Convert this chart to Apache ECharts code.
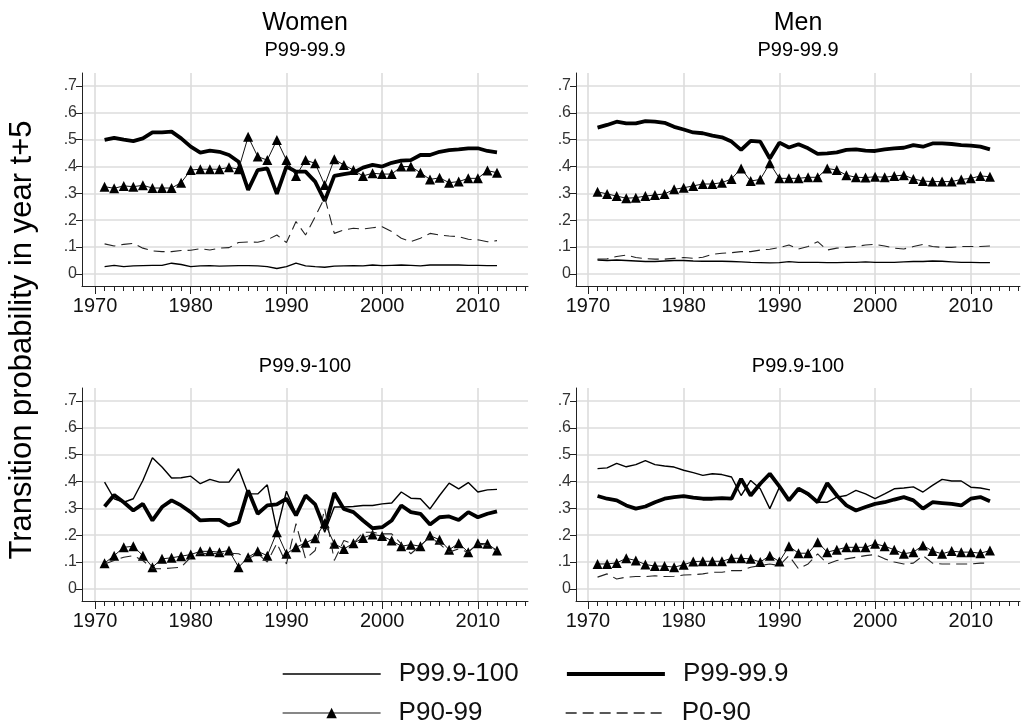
<!DOCTYPE html>
<html><head><meta charset="utf-8">
<script src="https://cdn.jsdelivr.net/npm/echarts@6/dist/echarts.min.js"></script>
<style>html,body{margin:0;padding:0;background:#fff}#c{width:1023px;height:724px}</style>
</head><body><div id="c"></div>
<script>
// ---------------- DATA ----------------
const years = [];
for (let y = 1971; y <= 2012; y++) years.push(y);
const xMajorTicks = [1970, 1980, 1990, 2000, 2010];
const xMinorTicks = [];
for (let y = 1970; y <= 2015; y++) xMinorTicks.push(y);
const yTicks = [0, 0.1, 0.2, 0.3, 0.4, 0.5, 0.6, 0.7];
const columnTitles = ['Women', 'Men'];
const panelTitles = ['P99-99.9', 'P99-99.9', 'P99.9-100', 'P99.9-100'];
const yAxisTitle = 'Transition probability in year t+5';
const seriesNames = ['P99.9-100', 'P99-99.9', 'P90-99', 'P0-90'];

// Women, origin P99-99.9
const womenP99_top = [.027,.032,.027,.030,.031,.032,.032,.040,.035,.027,.030,.031,.029,.030,.031,.031,.030,.027,.020,.027,.040,.030,.027,.025,.029,.030,.031,.030,.033,.031,.032,.033,.032,.030,.033,.033,.033,.033,.032,.032,.031,.031];
const womenP99_p99 = [.499,.507,.500,.495,.505,.527,.527,.530,.505,.474,.452,.459,.455,.443,.418,.313,.387,.393,.298,.400,.381,.381,.344,.272,.365,.372,.377,.396,.406,.400,.414,.422,.424,.443,.443,.455,.461,.464,.468,.468,.458,.453];
const womenP99_p90 = [.325,.319,.328,.325,.330,.320,.320,.320,.340,.387,.390,.390,.390,.397,.390,.511,.437,.424,.499,.424,.365,.424,.412,.331,.427,.406,.387,.365,.375,.372,.372,.400,.400,.377,.352,.358,.340,.344,.356,.356,.385,.377];
const womenP99_p0 = [.112,.104,.110,.114,.096,.086,.083,.083,.087,.088,.094,.089,.096,.098,.117,.119,.118,.127,.145,.117,.195,.145,.213,.285,.151,.164,.170,.167,.172,.176,.158,.133,.120,.133,.151,.145,.141,.139,.129,.127,.120,.124];

// Men, origin P99-99.9
const menP99_top = [.052,.050,.052,.050,.048,.046,.046,.048,.050,.050,.048,.047,.047,.047,.046,.045,.043,.042,.041,.042,.046,.043,.043,.043,.042,.042,.043,.043,.045,.043,.043,.043,.045,.046,.046,.048,.047,.045,.043,.043,.042,.042];
const menP99_p99 = [.545,.555,.567,.561,.561,.569,.567,.563,.548,.538,.527,.524,.515,.509,.493,.462,.496,.493,.430,.489,.471,.483,.468,.447,.449,.453,.462,.464,.459,.458,.464,.468,.470,.480,.474,.486,.486,.484,.480,.478,.474,.464];
const menP99_p90 = [.306,.298,.290,.282,.284,.290,.294,.298,.315,.321,.328,.335,.335,.340,.354,.393,.346,.352,.412,.356,.356,.356,.360,.360,.393,.387,.368,.360,.359,.362,.360,.365,.368,.354,.346,.344,.344,.344,.352,.356,.365,.362];
const menP99_p0 = [.055,.056,.065,.070,.061,.057,.055,.055,.058,.061,.058,.062,.073,.077,.079,.083,.083,.089,.092,.098,.108,.093,.102,.120,.089,.096,.099,.102,.108,.110,.104,.096,.093,.102,.110,.102,.099,.099,.102,.102,.102,.104];

// Women, origin P99.9-100
const womenP999_top = [.398,.336,.323,.336,.404,.489,.454,.413,.414,.420,.392,.408,.398,.398,.448,.354,.354,.388,.218,.364,.280,.348,.317,.211,.305,.305,.307,.311,.311,.317,.320,.361,.338,.336,.298,.348,.394,.373,.396,.361,.369,.371];
const womenP999_p99 = [.307,.350,.323,.292,.317,.255,.305,.330,.311,.286,.255,.257,.257,.236,.249,.367,.280,.311,.315,.336,.274,.348,.315,.224,.357,.298,.286,.255,.226,.230,.255,.311,.286,.280,.240,.267,.270,.257,.286,.267,.280,.289];
const womenP999_p90 = [.096,.124,.155,.159,.124,.081,.112,.116,.122,.128,.140,.140,.137,.143,.081,.118,.140,.124,.211,.131,.155,.172,.189,.245,.168,.149,.170,.190,.203,.197,.180,.159,.165,.159,.199,.183,.146,.170,.137,.170,.168,.143];
const womenP999_p0 = [.093,.106,.118,.124,.106,.075,.075,.078,.081,.118,.133,.131,.133,.133,.131,.112,.131,.100,.170,.093,.243,.112,.143,.299,.106,.180,.168,.211,.211,.205,.205,.168,.131,.162,.193,.168,.137,.149,.137,.168,.162,.143];

// Men, origin P99.9-100
const menP999_top = [.448,.451,.468,.455,.463,.478,.463,.458,.454,.442,.433,.423,.429,.426,.417,.348,.404,.373,.299,.379,.336,.373,.348,.323,.323,.342,.348,.367,.354,.336,.354,.373,.376,.380,.361,.386,.408,.402,.402,.379,.376,.369];
const menP999_p99 = [.346,.336,.330,.311,.299,.307,.323,.336,.342,.346,.340,.336,.336,.338,.336,.410,.348,.392,.429,.382,.330,.373,.354,.323,.394,.348,.311,.292,.305,.317,.323,.333,.342,.330,.299,.323,.320,.317,.311,.336,.342,.327];
const menP999_p90 = [.093,.093,.097,.114,.106,.091,.085,.085,.081,.090,.102,.103,.103,.103,.114,.114,.112,.100,.124,.102,.159,.133,.133,.174,.137,.146,.155,.155,.155,.168,.159,.146,.131,.137,.162,.141,.131,.141,.137,.137,.133,.143];
const menP999_p0 = [.044,.056,.037,.044,.046,.046,.049,.046,.047,.052,.053,.056,.062,.062,.068,.068,.081,.087,.093,.087,.124,.075,.093,.131,.093,.106,.112,.118,.124,.128,.112,.100,.093,.096,.124,.096,.093,.093,.093,.093,.096,.096];

const panels = [
  [womenP99_top, womenP99_p99, womenP99_p90, womenP99_p0],
  [menP99_top, menP99_p99, menP99_p90, menP99_p0],
  [womenP999_top, womenP999_p99, womenP999_p90, womenP999_p0],
  [menP999_top, menP999_p99, menP999_p90, menP999_p0]
];

// ---------------- LAYOUT / STYLE ----------------
const FONT = 'Liberation Sans, Arial, sans-serif';
const gridBoxes = [
  {left: 82, top: 73, width: 446, height: 213, xmin: 1968.64, xmax: 2015.24},
  {left: 576, top: 73, width: 444, height: 213, xmin: 1968.75, xmax: 2015.14},
  {left: 82, top: 388, width: 446, height: 213, xmin: 1968.64, xmax: 2015.24},
  {left: 576, top: 388, width: 444, height: 213, xmin: 1968.75, xmax: 2015.14}
];
const yMin = -0.045, yMax = 0.7485;
const seriesStyles = [
  {lineStyle: {width: 1.4, color: '#000'}, symbol: 'none'},
  {lineStyle: {width: 3.8, color: '#000'}, symbol: 'none'},
  {lineStyle: {width: 1, color: '#111'}, symbol: 'triangle', symbolSize: 10},
  {lineStyle: {width: 1.1, color: '#222', type: [11, 6]}, symbol: 'none'}
];
const gridColor = '#dcdcdc';

const grid = [], xAxis = [], yAxis = [], series = [];
gridBoxes.forEach((g, i) => {
  grid.push({left: g.left, top: g.top, width: g.width, height: g.height, containLabel: false});
  xAxis.push({
    type: 'value', gridIndex: i, min: g.xmin, max: g.xmax, position: 'bottom',
    axisLine: {show: true, onZero: false, lineStyle: {color: '#222', width: 1}},
    axisTick: {show: true, customValues: xMajorTicks, length: 8, lineStyle: {color: '#222'}},
    axisLabel: {show: true, customValues: xMajorTicks, fontFamily: FONT, fontSize: 20, color: '#111', margin: 10,
      formatter: v => String(Math.round(v))},
    splitLine: {show: true, lineStyle: {color: gridColor, width: 1.6}}
  });
});
gridBoxes.forEach((g, i) => {
  // minor (yearly) ticks
  xAxis.push({
    type: 'value', gridIndex: i, min: g.xmin, max: g.xmax, position: 'bottom',
    axisLine: {show: false, onZero: false},
    axisTick: {show: true, customValues: xMinorTicks, length: 5, lineStyle: {color: '#222'}},
    axisLabel: {show: false},
    splitLine: {show: false}
  });
  yAxis.push({
    type: 'value', gridIndex: i, min: yMin, max: yMax,
    axisLine: {show: true, onZero: false, lineStyle: {color: '#222', width: 1}},
    axisTick: {show: true, customValues: yTicks, length: 6, lineStyle: {color: '#222'}},
    axisLabel: {customValues: yTicks, fontFamily: FONT, fontSize: 16, color: '#333', margin: 5,
      formatter: v => (Math.abs(v) < 1e-9 ? '0' : '.' + Math.round(v * 10))},
    splitLine: {show: true, lineStyle: {color: gridColor, width: 1.6}}
  });
});
panels.forEach((pd, i) => {
  pd.forEach((vals, k) => {
    const st = seriesStyles[k];
    series.push({
      type: 'line', name: seriesNames[k], xAxisIndex: i, yAxisIndex: i,
      data: years.map((y, j) => [y, vals[j]]),
      symbol: st.symbol, symbolSize: st.symbolSize || 0, showSymbol: st.symbol !== 'none',
      lineStyle: st.lineStyle, itemStyle: {color: '#000'},
      z: 3 + k, silent: true, animation: false
    });
  });
});

const legendPos = [
  {name: seriesNames[0], left: 282, top: 661, width: 1.4, sym: false},
  {name: seriesNames[1], left: 565, top: 661, width: 3.8, sym: false},
  {name: seriesNames[2], left: 282, top: 700, width: 1.2, sym: true},
  {name: seriesNames[3], left: 565, top: 700, width: 1.3, sym: false}
];
const legend = legendPos.map(l => ({
  data: [l.name], left: l.left, top: l.top, padding: 0, orient: 'horizontal',
  selectedMode: false, itemWidth: 98, itemHeight: 13,
  lineStyle: {width: l.width},
  itemStyle: l.sym ? {} : {opacity: 0},
  textStyle: {fontFamily: FONT, fontSize: 26, color: '#111', padding: [0, 0, 0, 13]}
}));

const txt = (text, x, y, size, rot) => ({
  type: 'text', x: x, y: y, rotation: rot || 0, silent: true,
  style: {text: text, fontFamily: FONT, fontSize: size, fill: '#000', align: 'center', verticalAlign: 'middle'}
});
const gfx = [
  txt(columnTitles[0], 305, 23, 25),
  txt(columnTitles[1], 798, 23, 25),
  txt(panelTitles[0], 305, 50, 20),
  txt(panelTitles[1], 798, 50, 20),
  txt(panelTitles[2], 305, 366, 20),
  txt(panelTitles[3], 798, 366, 20),
  txt(yAxisTitle, 22, 340, 31, Math.PI / 2)
];

const chart = echarts.init(document.getElementById('c'), null, {renderer: 'canvas'});
chart.setOption({
  animation: false, backgroundColor: '#fff',
  grid, xAxis, yAxis, series, legend, graphic: gfx
});
</script></body></html>
